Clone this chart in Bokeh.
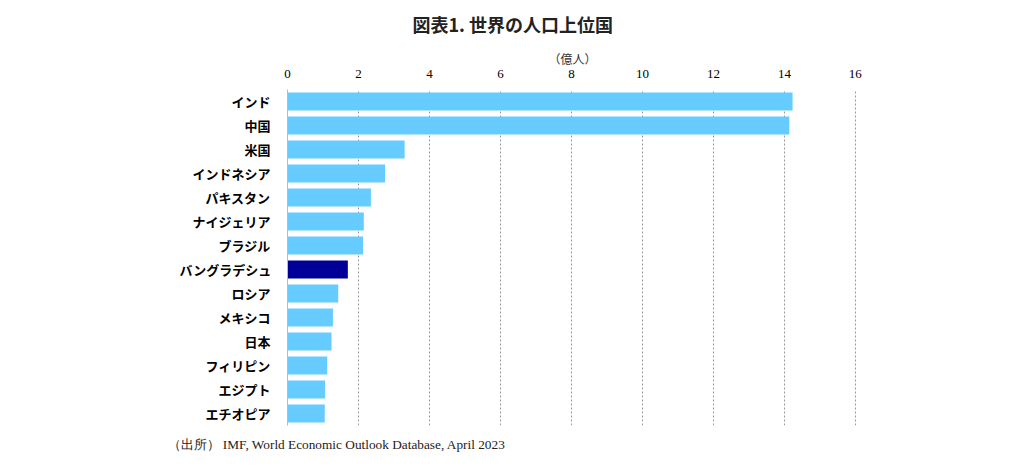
from bokeh.plotting import figure
from bokeh.models import FactorRange, Title, FixedTicker, ColumnDataSource
from bokeh.embed import file_html
from bokeh.resources import INLINE

countries = ["インド", "中国", "米国", "インドネシア", "パキスタン", "ナイジェリア", "ブラジル",
             "バングラデシュ", "ロシア", "メキシコ", "日本", "フィリピン", "エジプト", "エチオピア"]
population = [14.23, 14.14, 3.30, 2.75, 2.35, 2.15, 2.13, 1.70, 1.43, 1.28, 1.24, 1.12, 1.06, 1.05]
highlight = "バングラデシュ"
x_ticks = [0, 2, 4, 6, 8, 10, 12, 14, 16]

colors = ["#000099" if c == highlight else "#66CCFF" for c in countries]
src = ColumnDataSource(dict(c=countries, v=population, col=colors))

W, H = 1016, 464
FL, FT, FB, FR = 287, 89, 425, 857
p = figure(width=W, height=H, output_backend="svg", toolbar_location=None,
           y_range=FactorRange(factors=list(reversed(countries)), range_padding=0),
           x_range=(0, 16.06), x_axis_location="above",
           min_border_left=FL, min_border_right=W - FR, min_border_top=FT, min_border_bottom=H - FB)
p.outline_line_color = None
p.hbar(y="c", right="v", left=0, height=0.75, color="col", line_color=None, source=src)

p.xaxis.ticker = FixedTicker(ticks=x_ticks)
p.xaxis.axis_line_color = None
p.xaxis.major_tick_line_color = None
p.xaxis.minor_tick_line_color = None
p.xaxis.major_tick_out = 0
p.xaxis.minor_tick_out = 0
p.xaxis.major_label_text_font = "Liberation Serif"
p.xaxis.major_label_text_font_size = "13px"
p.xaxis.major_label_text_color = "#000000"
p.xaxis.major_label_standoff = 12
p.xaxis.axis_label = "（億人）"
p.xaxis.axis_label_text_font = "Noto Sans CJK JP"
p.xaxis.axis_label_text_font_style = "normal"
p.xaxis.axis_label_text_font_size = "12px"
p.xaxis.axis_label_text_color = "#333333"
p.xaxis.axis_label_standoff = 0

p.yaxis.axis_line_color = "#BBBBBB"
p.yaxis.major_tick_line_color = None
p.yaxis.minor_tick_line_color = None
p.yaxis.major_tick_out = 0
p.yaxis.minor_tick_out = 0
p.yaxis.major_label_text_font = "Noto Sans CJK JP"
p.yaxis.major_label_text_font_style = "bold"
p.yaxis.major_label_text_font_size = "13px"
p.yaxis.major_label_text_color = "#000000"
p.yaxis.major_label_standoff = 17

p.ygrid.grid_line_color = None
p.xgrid.grid_line_color = "#999999"
p.xgrid.grid_line_dash = "2 2"
p.xgrid.grid_line_width = 1

p.add_layout(Title(text="図表1. 世界の人口上位国", align="left", offset=412 - FL, standoff=16,
                   vertical_align="top",
                   text_font="Noto Sans CJK JP", text_font_style="bold", text_font_size="18px",
                   text_color="#222222"), "above")
p.add_layout(Title(text="（出所） IMF, World Economic Outlook Database, April 2023", align="left",
                   offset=167 - FL, standoff=19, vertical_align="bottom",
                   text_font="Liberation Serif", text_font_style="normal",
                   text_font_size="13.3px", text_color="#222222"), "below")

open("out.html", "w").write(file_html(p, INLINE))
